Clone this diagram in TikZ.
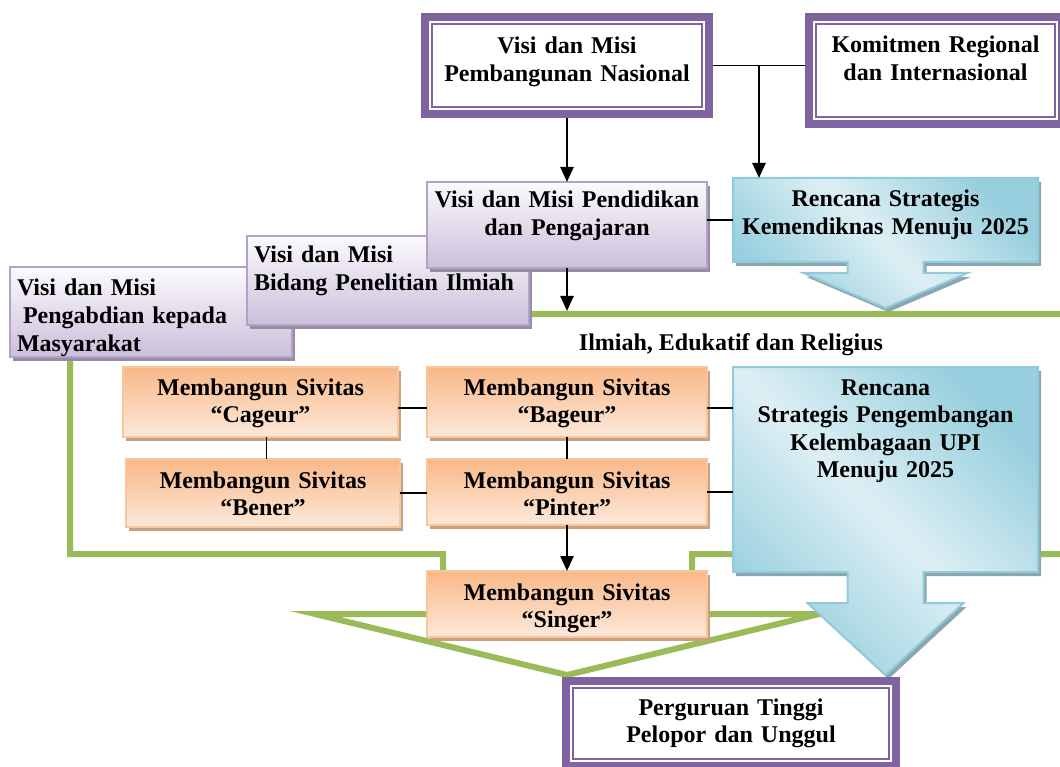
\documentclass[tikz,border=0pt]{standalone}
\usepackage{fontspec}
\setmainfont{Liberation Serif}
\usetikzlibrary{arrows.meta, calc, shadows, backgrounds}

\definecolor{vpurple}{HTML}{8064A2}
\definecolor{lavtop}{HTML}{FBFAFD}
\definecolor{lavbot}{HTML}{CBBFDA}
\definecolor{lavline}{HTML}{B3A2C7}
\definecolor{lavshadow}{HTML}{978DA3}
\definecolor{ordark}{HTML}{F8B888}
\definecolor{orlight}{HTML}{FDE9DB}
\definecolor{orline}{HTML}{FAC59A}
\definecolor{orshadow}{HTML}{C9A080}
\definecolor{bldark}{HTML}{97CFDE}
\definecolor{bllight}{HTML}{DDEFF4}
\definecolor{blline}{HTML}{8FCBDA}
\definecolor{blshadow}{HTML}{8BA6AF}
\definecolor{vgreen}{HTML}{9BBB59}

\begin{document}
\begin{tikzpicture}[x=1pt, y=-1pt,
    txt/.style={font=\bfseries\fontsize{24}{27.5}\selectfont, inner sep=0pt, outer sep=0pt,
      anchor=north west, align=center},
    frame/.style={txt, fill=white, draw=vpurple, line width=1.5pt, outer sep=11pt,
      preaction={draw=vpurple, line width=22pt}, preaction={draw=white, line width=6pt}},
    visibox/.style={txt, draw=lavline, line width=2pt, top color=lavtop, bottom color=lavbot,
      drop shadow={shadow xshift=3pt, shadow yshift=-4pt, fill=lavshadow, opacity=1}},
    sivitas/.style={txt, draw=orline, line width=2pt, top color=ordark, bottom color=orlight,
      drop shadow={shadow xshift=3pt, shadow yshift=-4pt, fill=orshadow, opacity=1}},
    renstra/.style={draw=blline, line width=2pt, top color=bldark, bottom color=bldark,
      middle color=bllight, shading angle=-45,
      drop shadow={shadow xshift=3pt, shadow yshift=-4pt, fill=blshadow, opacity=1}},
    gline/.style={draw=vgreen, line width=6pt},
    link/.style={line width=1.5pt},
    arr/.style={line width=2.5pt, -{Triangle[width=13pt,length=15pt]}}]

  \useasboundingbox (0,0) rectangle (1060,767);
  \coordinate (shaft) at (70,314);

  % top row
  \node[frame, text width=270pt, text height=30pt, text depth=53pt] (pemb) at (421,13)
    {Visi dan Misi\\Pembangunan Nasional};
  \node[frame, text width=239pt, text height=29pt, text depth=64pt] (komit) at (805,13)
    {Komitmen Regional\\dan Internasional};

  % visi dan misi boxes
  \node[visibox, align=left, inner xsep=7pt, text width=268pt, text height=29pt, text depth=61pt] (abdi) at (10,267)
    {Visi dan Misi\\\hspace*{6pt}Pengabdian kepada\\Masyarakat};
  \node[visibox, align=left, inner xsep=7pt, text width=268pt, text height=27pt, text depth=62pt] (teliti) at (247,236)
    {Visi dan Misi\\Bidang Penelitian Ilmiah};
  \node[visibox, text width=280pt, text height=26pt, text depth=60pt] (didik) at (427,182)
    {Visi dan Misi Pendidikan\\dan Pengajaran};

  % rencana strategis
  \node[txt, text width=305pt, text height=29pt, text depth=55pt] (kemen) at (733,178)
    {Rencana Strategis\\Kemendiknas Menuju 2025};
  \node[txt, text width=305pt, text height=28pt, text depth=177pt] (upi) at (733,367)
    {Rencana\\Strategis Pengembangan\\Kelembagaan UPI\\Menuju 2025};

  \node[txt, anchor=base] (ilmiah) at (731,350) {Ilmiah, Edukatif dan Religius};

  % sivitas
  \node[sivitas, text width=275pt, text height=28pt, text depth=42pt] (cageur) at (123,367)
    {Membangun Sivitas\\“Cageur”};
  \node[sivitas, text width=280pt, text height=28pt, text depth=42pt] (bageur) at (427,367)
    {Membangun Sivitas\\“Bageur”};
  \node[sivitas, text width=274pt, text height=29pt, text depth=39pt] (bener) at (126,459)
    {Membangun Sivitas\\“Bener”};
  \node[sivitas, text width=280pt, text height=29pt, text depth=37pt] (pinter) at (427,459)
    {Membangun Sivitas\\“Pinter”};
  \node[sivitas, text width=280pt, text height=29pt, text depth=37pt] (singer) at (427,571)
    {Membangun Sivitas\\“Singer”};

  \node[frame, text width=316pt, text height=27pt, text depth=44pt] (unggul) at (562,677)
    {Perguruan Tinggi\\Pelopor dan Unggul};

  % connectors
  \draw[link] (pemb.east) -- (pemb.east -| komit.west);
  \coordinate (junc) at ($(pemb.east)!0.5!(pemb.east -| komit.west)$);
  \draw[arr] (junc) -- (junc |- kemen.north);
  \draw[arr] (pemb.south) -- (didik.north);
  \draw[link] (kemen.west) -- (kemen.west -| didik.east);
  \draw[arr, shorten >=3pt] (didik.south) -- (didik.south |- shaft);

  \draw[link] ([yshift=-6pt]cageur.east) -- ([yshift=-6pt]bageur.west);
  \draw[link] ([xshift=6pt]cageur.south) -- ([xshift=6pt]cageur.south |- bener.north);
  \draw[link] (bageur.south) -- (pinter.north);
  \draw[link] (bener.east) -- (bener.east -| pinter.west);
  \draw[link] ([yshift=-6pt]bageur.east) -- ([yshift=-6pt]bageur.east -| upi.west);
  \draw[link] (pinter.east) -- (pinter.east -| upi.west);
  \draw[arr] (pinter.south) -- (singer.north);

  \begin{scope}[on background layer]
    % green arrow outline
    \draw[gline] (shaft) -- (1075,314) -- (1075,554) -- (692,554) -- (692,614) -- (819,614)
      -- (567,675) -- (315,614) -- (443,614) -- (443,554) -- (70,554) -- cycle;

    % blue callouts
    \path[renstra] (kemen.north west) -- (kemen.north east) -- (kemen.south east)
      -- ($(kemen.south)+(38,0)$) -- ($(kemen.south)+(38,11)$) -- ($(kemen.south)+(82,11)$)
      -- ($(kemen.south)+(0,46)$)
      -- ($(kemen.south)+(-82,11)$) -- ($(kemen.south)+(-38,11)$) -- ($(kemen.south)+(-38,0)$)
      -- (kemen.south west) -- cycle;
    \path[renstra] (upi.north west) -- (upi.north east) -- (upi.south east)
      -- ($(upi.south)+(38,0)$) -- ($(upi.south)+(38,31)$) -- ($(upi.south)+(78,31)$)
      -- ($(upi.south)+(0,103)$)
      -- ($(upi.south)+(-78,31)$) -- ($(upi.south)+(-38,31)$) -- ($(upi.south)+(-38,0)$)
      -- (upi.south west) -- cycle;
  \end{scope}

\end{tikzpicture}
\end{document}
